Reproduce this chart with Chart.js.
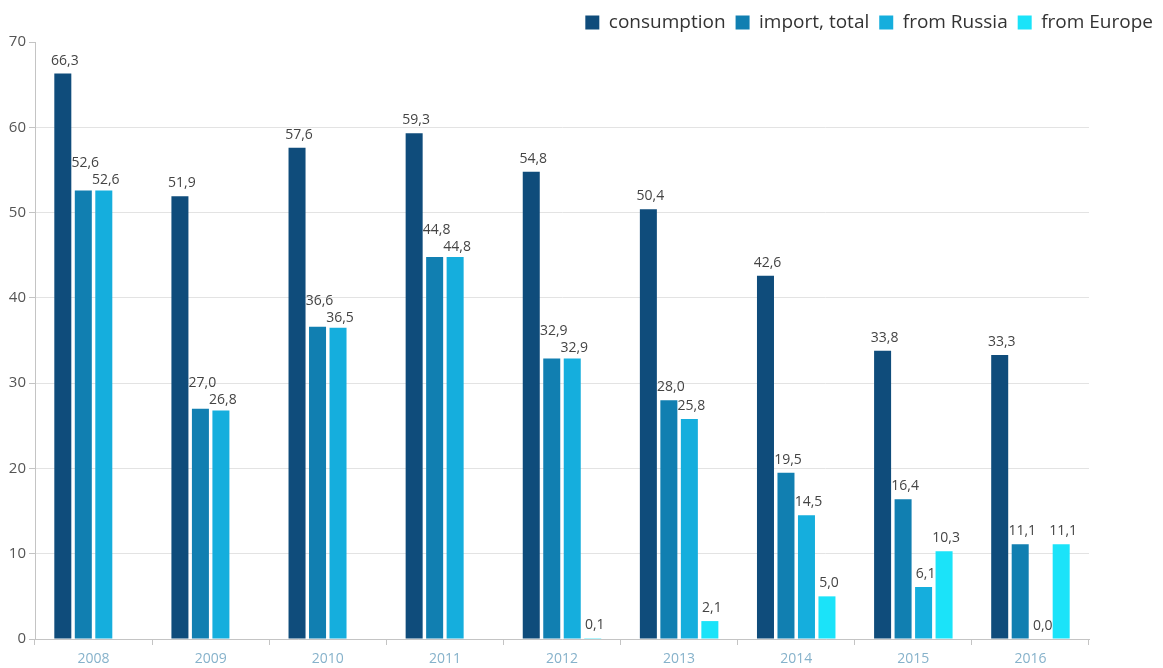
<!DOCTYPE html>
<html>
<head>
<meta charset="utf-8">
<title>Gas consumption and imports</title>
<script src="https://cdn.jsdelivr.net/npm/chart.js@4.4.1/dist/chart.umd.min.js"></script>
<style>
  html, body { margin: 0; padding: 0; background: #fff; }
  #wrap { width: 1163px; height: 668px; }
</style>
</head>
<body>
<div id="wrap"><canvas id="gasChart" width="1163" height="668"></canvas></div>
<script>
// Yearly values
const years = ['2008', '2009', '2010', '2011', '2012', '2013', '2014', '2015', '2016'];
const consumption = [66.3, 51.9, 57.6, 59.3, 54.8, 50.4, 42.6, 33.8, 33.3];
const importTotal = [52.6, 27.0, 36.6, 44.8, 32.9, 28.0, 19.5, 16.4, 11.1];
const fromRussia = [52.6, 26.8, 36.5, 44.8, 32.9, 25.8, 14.5, 6.1, 0.0];
const fromEurope = [null, null, null, null, 0.1, 2.1, 5.0, 10.3, 11.1];

const yTicks = [0, 10, 20, 30, 40, 50, 60, 70];

const fontFamily = '"Open Sans", "Noto Sans", sans-serif';

// value labels above every bar, with comma decimals;
// labels that would collide with the one on their right get lifted
const valueLabels = {
    id: 'valueLabels',
    afterDatasetsDraw(chart) {
        const ctx = chart.ctx;
        ctx.save();
        ctx.font = '14px ' + fontFamily;
        ctx.fillStyle = '#444';
        ctx.textAlign = 'center';
        ctx.textBaseline = 'middle';
        const nSets = chart.data.datasets.length;
        for (let i = 0; i < years.length; i++) {
            const items = [];
            for (let d = 0; d < nSets; d++) {
                const v = chart.data.datasets[d].data[i];
                const bar = chart.getDatasetMeta(d).data[i];
                if (v === null || v === undefined || !bar) { items.push(null); continue; }
                const text = v.toFixed(1).replace('.', ',');
                const w = ctx.measureText(text).width;
                items.push({ text: text, x: bar.x + 2, y: bar.y - 13, w: w });
            }
            for (let d = nSets - 2; d >= 0; d--) {
                const a = items[d], b = items[d + 1];
                if (!a || !b) continue;
                const overlapX = Math.abs(a.x - b.x) < (a.w + b.w) / 2 + 2;
                if (overlapX && Math.abs(a.y - b.y) < 16) {
                    b.y += 3;
                    a.y = b.y - 17;
                }
            }
            items.forEach(it => { if (it) ctx.fillText(it.text, it.x, it.y); });
        }
        ctx.restore();
    }
};

const ctx = document.getElementById('gasChart');
new Chart(ctx, {
    type: 'bar',
    data: {
        labels: years,
        datasets: [
            { label: 'consumption', data: consumption, backgroundColor: '#0f4c7b' },
            { label: 'import, total', data: importTotal, backgroundColor: '#117fb1' },
            { label: 'from Russia', data: fromRussia, backgroundColor: '#15aedd' },
            { label: 'from Europe', data: fromEurope, backgroundColor: '#1be3f9' }
        ]
    },
    options: {
        responsive: false,
        animation: false,
        datasets: {
            bar: { categoryPercentage: 0.7, barPercentage: 0.83, borderWidth: 0 }
        },
        layout: { padding: { top: 3, right: 0, bottom: 0, left: 0 } },
        plugins: {
            legend: {
                position: 'top',
                align: 'end',
                labels: {
                    font: { family: fontFamily, size: 19 },
                    color: '#333',
                    boxWidth: 14,
                    boxHeight: 14,
                    padding: 10
                }
            },
            tooltip: { enabled: false }
        },
        scales: {
            x: {
                afterFit(scale) { scale.height = 29; },
                grid: {
                    display: true,
                    drawOnChartArea: false,
                    drawTicks: true,
                    tickLength: 6,
                    color: '#c4c4c4'
                },
                border: { color: '#c4c4c4' },
                ticks: {
                    color: '#86b2cb',
                    font: { family: fontFamily, size: 14 },
                    padding: 6
                }
            },
            y: {
                min: 0,
                max: 70,
                afterBuildTicks(scale) {
                    scale.ticks = yTicks.map(v => ({ value: v }));
                },
                afterFit(scale) { scale.width = 35; },
                grid: {
                    // no line across the top of the plot, only the tick mark
                    color: c => (c.tick && c.tick.value === 70) ? 'rgba(0,0,0,0)' : '#e3e3e3',
                    tickColor: '#c4c4c4',
                    tickLength: 6
                },
                border: { color: '#c4c4c4' },
                ticks: {
                    color: '#555',
                    font: { family: fontFamily, size: 15 },
                    padding: 3
                }
            },
            // empty right-hand axis keeps the plot clear of the right margin
            spacer: {
                type: 'linear',
                position: 'right',
                display: true,
                grid: { display: false },
                border: { display: false },
                ticks: { display: false },
                afterFit(scale) { scale.width = 74; }
            }
        }
    },
    plugins: [valueLabels]
});
</script>
</body>
</html>
